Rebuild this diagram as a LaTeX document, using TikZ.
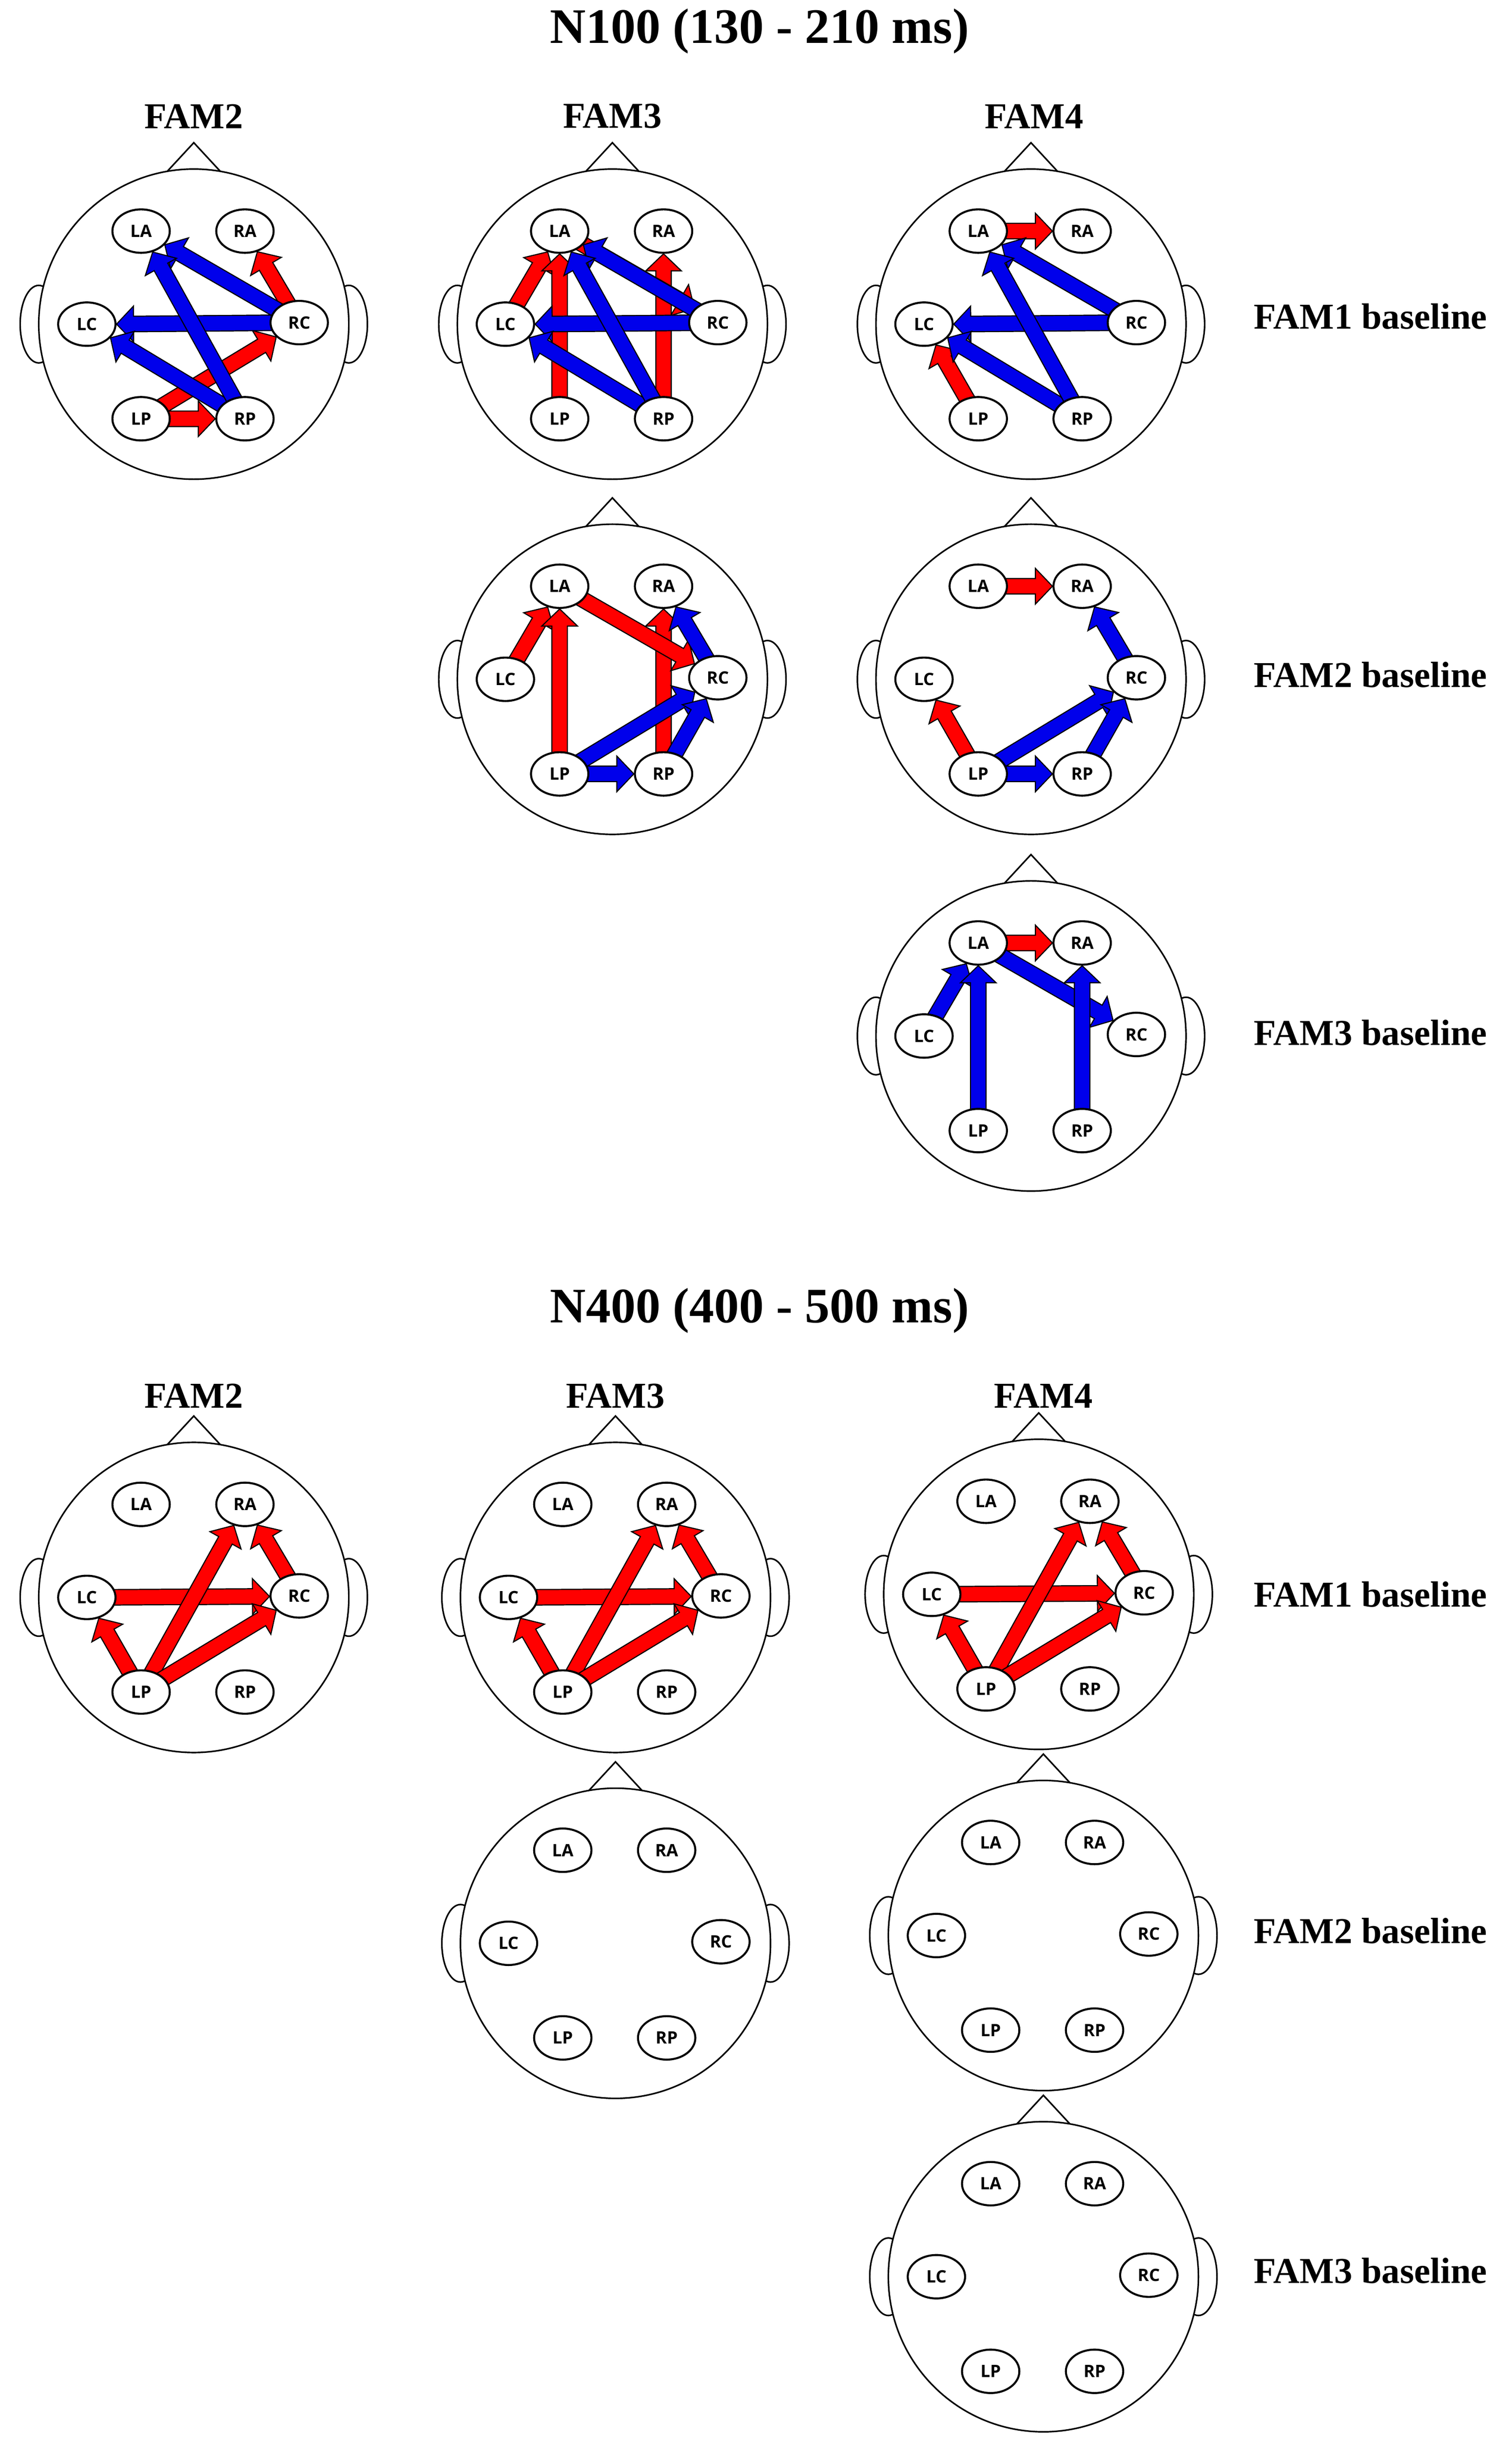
\documentclass[tikz,border=0pt]{standalone}
\usepackage{fontspec}
\setmainfont{Liberation Serif}
\setsansfont{Open Sans}
\usetikzlibrary{calc,shapes.geometric}
\pgfdeclarelayer{back}\pgfdeclarelayer{arrows}
\pgfsetlayers{back,arrows,main}
\definecolor{ared}{RGB}{255,0,0}
\definecolor{ablue}{RGB}{0,0,235}
\tikzset{el/.style={ellipse,draw,line width=1.3pt,fill=white,minimum width=37pt,minimum height=28pt,inner sep=0pt,font=\sffamily\bfseries\fontsize{11}{11}\selectfont},
headln/.style={line width=1pt},
ttl/.style={font=\bfseries\fontsize{23.5}{23.5}\selectfont},
bigttl/.style={font=\bfseries\fontsize{32}{32}\selectfont}}
\newcommand\head[3]{%
\begin{pgfonlayer}{back}
\draw[headln,fill=white] ({#2-100},#3) ellipse[x radius=12pt,y radius=25pt];
\draw[headln,fill=white] ({#2+100},#3) ellipse[x radius=12pt,y radius=25pt];
\draw[headln,fill=white] ({#2-25},{#3-90}) -- (#2,{#3-117}) -- ({#2+25},{#3-90});
\draw[headln,fill=white] (#2,#3) circle[radius=100pt];
\end{pgfonlayer}
\node[el] (#1LA) at ({#2-34},{#3-60}) {LA};
\node[el] (#1RA) at ({#2+33},{#3-60}) {RA};
\node[el] (#1LC) at ({#2-69},{#3}) {LC};
\node[el] (#1RC) at ({#2+68},{#3-1}) {RC};
\node[el] (#1LP) at ({#2-34},{#3+61}) {LP};
\node[el] (#1RP) at ({#2+33},{#3+61}) {RP};}
\newcommand\arr[3]{%
\path let \p1=(#2.center),\p2=(#3.center),\n1={atan2(\y1-\y2,\x1-\x2)} in (#3.\n1) coordinate (aE) (#2.center) coordinate (aS);
\coordinate (aH) at ($(aE)!11pt!(aS)$);
\begin{pgfonlayer}{arrows}
\filldraw[fill=#1,draw=black,line width=0.7pt,line join=miter] ($(aS)!5pt!90:(aE)$) -- ($(aH)!5pt!-90:(aS)$) -- ($(aH)!11.5pt!-90:(aS)$) -- (aE) -- ($(aH)!11.5pt!90:(aS)$) -- ($(aH)!5pt!90:(aS)$) -- ($(aS)!5pt!-90:(aE)$) -- cycle;
\end{pgfonlayer}}
\begin{document}
\begin{tikzpicture}[x=1pt,y=-1pt]
\begin{pgfonlayer}{back}
\fill[white] (0,0) rectangle (975,1572);
\end{pgfonlayer}
\useasboundingbox (0,0) rectangle (975,1572);
% titles
\node[bigttl] (t1) at (490,20) {N100 (130 - 210 ms)};
\node[ttl] (c1) at (125,75) {FAM2};
\node[ttl] (c2) at (395,75) {FAM3};
\node[ttl] (c3) at (667,75) {FAM4};
\node[ttl] (r1) at (884,204) {FAM1 baseline};
\node[ttl] (r2) at (884,435) {FAM2 baseline};
\node[ttl] (r3) at (884,666) {FAM3 baseline};
\node[bigttl] (t2) at (490,845) {N400 (400 - 500 ms)};
\node[ttl] (c4) at (125,900) {FAM2};
\node[ttl] (c5) at (397,900) {FAM3};
\node[ttl] (c6) at (673,900) {FAM4};
\node[ttl] (r4) at (884,1028) {FAM1 baseline};
\node[ttl] (r5) at (884,1245) {FAM2 baseline};
\node[ttl] (r6) at (884,1464) {FAM3 baseline};
% heads
\head{a}{125}{209}
\head{b}{395}{209}
\head{c}{665}{209}
\head{d}{395}{438}
\head{e}{665}{438}
\head{f}{665}{668}
\head{g}{125}{1030}
\head{h}{397}{1030}
\head{i}{670}{1028}
\head{j}{397}{1253}
\head{k}{673}{1248}
\head{l}{673}{1468}
% N100 FAM2 vs FAM1
\arr{ared}{aLP}{aRC}\arr{ared}{aLP}{aRP}\arr{ared}{aRC}{aRA}
\arr{ablue}{aRC}{aLC}\arr{ablue}{aRP}{aLC}\arr{ablue}{aRC}{aLA}\arr{ablue}{aRP}{aLA}
% N100 FAM3 vs FAM1
\arr{ared}{bLC}{bLA}\arr{ared}{bLP}{bLA}\arr{ared}{bRP}{bRA}\arr{ared}{bLA}{bRC}
\arr{ablue}{bRC}{bLA}\arr{ablue}{bRC}{bLC}\arr{ablue}{bRP}{bLC}\arr{ablue}{bRP}{bLA}
% N100 FAM4 vs FAM1
\arr{ared}{cLA}{cRA}\arr{ared}{cLP}{cLC}
\arr{ablue}{cRC}{cLA}\arr{ablue}{cRC}{cLC}\arr{ablue}{cRP}{cLC}\arr{ablue}{cRP}{cLA}
% N100 FAM3 vs FAM2
\arr{ared}{dLC}{dLA}\arr{ared}{dLP}{dLA}\arr{ared}{dRP}{dRA}\arr{ared}{dLA}{dRC}
\arr{ablue}{dRC}{dRA}\arr{ablue}{dLP}{dRC}\arr{ablue}{dRP}{dRC}\arr{ablue}{dLP}{dRP}
% N100 FAM4 vs FAM2
\arr{ared}{eLA}{eRA}\arr{ared}{eLP}{eLC}
\arr{ablue}{eRC}{eRA}\arr{ablue}{eLP}{eRC}\arr{ablue}{eRP}{eRC}\arr{ablue}{eLP}{eRP}
% N100 FAM4 vs FAM3
\arr{ared}{fLA}{fRA}
\arr{ablue}{fLC}{fLA}\arr{ablue}{fLP}{fLA}\arr{ablue}{fLA}{fRC}\arr{ablue}{fRP}{fRA}
% N400 row 1
\arr{ared}{gLC}{gRC}\arr{ared}{gLP}{gLC}\arr{ared}{gLP}{gRA}\arr{ared}{gLP}{gRC}\arr{ared}{gRC}{gRA}
\arr{ared}{hLC}{hRC}\arr{ared}{hLP}{hLC}\arr{ared}{hLP}{hRA}\arr{ared}{hLP}{hRC}\arr{ared}{hRC}{hRA}
\arr{ared}{iLC}{iRC}\arr{ared}{iLP}{iLC}\arr{ared}{iLP}{iRA}\arr{ared}{iLP}{iRC}\arr{ared}{iRC}{iRA}
\end{tikzpicture}
\end{document}
